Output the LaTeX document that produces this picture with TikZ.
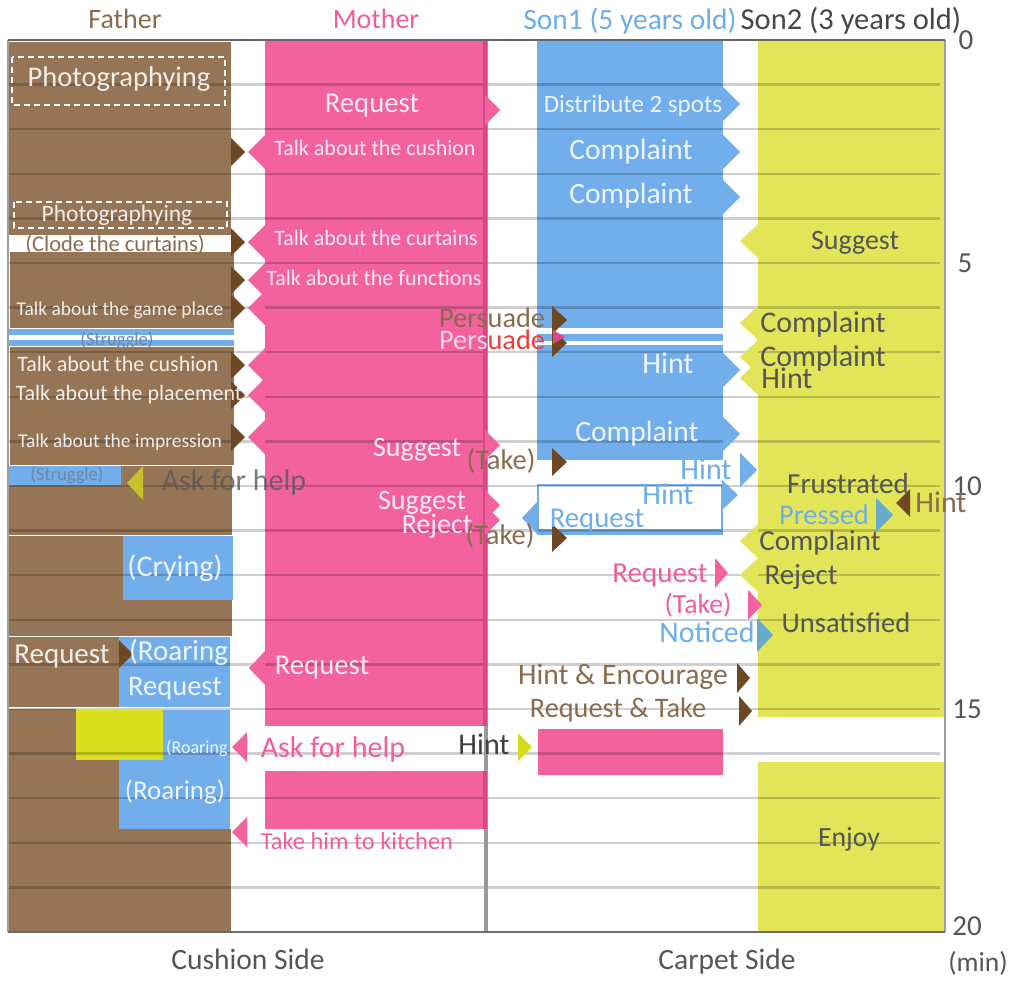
\documentclass[tikz,border=0pt]{standalone}
\usepackage{fontspec}
\setmainfont{Carlito}
\definecolor{brownF}{HTML}{957556}
\definecolor{dbrown}{HTML}{6E4824}
\definecolor{pinkM}{HTML}{F3619F}
\definecolor{pinkD}{HTML}{D94785}
\definecolor{blueS}{HTML}{72AEEC}
\definecolor{yellowS}{HTML}{E2E558}
\definecolor{ybright}{HTML}{DBE01E}
\definecolor{greyT}{HTML}{555555}
\definecolor{brownT}{HTML}{8B6B4E}
\definecolor{pinkT}{HTML}{F25C9C}
\definecolor{blueT}{HTML}{6CAEEC}
\definecolor{tealA}{HTML}{66AACC}
\definecolor{oliveA}{HTML}{C8C02A}
\definecolor{limeA}{HTML}{D6DC1C}
\definecolor{strugT}{HTML}{6F86A8}
\definecolor{pinkL}{HTML}{FBD3E4}
\definecolor{redT}{HTML}{F23A3A}
\newcommand\rtri[5]{\fill[#1] (#2,#3-#5) -- ++(#4,#5) -- ++(-#4,#5) -- cycle;}
\newcommand\ltri[5]{\fill[#1] (#2,#3-#5) -- ++(-#4,#5) -- ++(#4,#5) -- cycle;}
\tikzset{
  lbl/.style={inner sep=0pt, text depth=0pt},
  fs/.style={font=\fontsize{#1bp}{#1bp}\selectfont, text height={0.64*#1bp}},
  lt/.style={text=white, text opacity=0.88},
  gridline/.style={draw=black, draw opacity=0.19, line width=2.4bp},
  dashbox/.style={draw=white, line width=1.8bp, dash pattern=on 6bp off 4bp},
}
\begin{document}
\begin{tikzpicture}[x=1bp,y=-1bp]
\useasboundingbox (0,0) rectangle (1015,983);
% ---------- Father column ----------
\fill[brownF] (8,42) rectangle (231,235);
\fill[brownF] (10,252) rectangle (234,328);
\fill[blueS] (8,329) rectangle (234,335);
\fill[blueS] (8,340) rectangle (234,346);
\fill[brownF] (10,347) rectangle (234,465);
\fill[brownF] (8,466) rectangle (232,535);
\fill[blueS] (8,466) rectangle (121,485);
\draw[dbrown!70, line width=1bp] (122,466) -- (122,485);
\fill[brownF] (8,536) rectangle (123,600);
\fill[blueS] (123,536) rectangle (233,600);
\fill[brownF] (8,600) rectangle (232,636);
\fill[brownF] (8,637) rectangle (119,707);
\fill[blueS] (119,637) rectangle (230,707);
\fill[brownF] (8,709) rectangle (76,760);
\fill[ybright] (76,710) rectangle (163,760);
\fill[blueS] (163,710) rectangle (230,760);
\fill[brownF] (8,760) rectangle (119,829);
\fill[blueS] (119,760) rectangle (230,829);
\fill[brownF] (8,829) rectangle (231,932);
\draw[dashbox] (12,57) rectangle (225,105);
\draw[dashbox] (14,202) rectangle (227,228);
% ---------- Mother column ----------
\fill[pinkM] (265,40) rectangle (485,726);
\fill[pinkM] (265,771) rectangle (485,829);
% ---------- Son1 column ----------
\fill[blueS] (537,40) rectangle (723,328);
\fill[blueS] (537,334) rectangle (723,341);
\fill[blueS] (537,345) rectangle (723,460);
\draw[blueS, line width=2.2bp] (538,485) rectangle (722,530);
\fill[blueS] (537,529) rectangle (723,535);
\fill[pinkM] (538,729) rectangle (723,775);
% ---------- Son2 column ----------
\fill[yellowS] (758,40) rectangle (945,717);
\fill[yellowS] (758,762) rectangle (945,932);
% ---------- grid ----------
\foreach \k in {1,...,19} \draw[gridline] (8,40+44.6*\k) -- (940,40+44.6*\k);
\draw[draw=black!40, line width=3.5bp] (486,40) -- (486,932);
\draw[draw=pinkD, line width=3.5bp] (485,40) -- (485,726) (485,771) -- (485,829);
\draw[black!38, line width=2bp] (8,40) -- (8,932);
\draw[black!38, line width=2.5bp] (945,40) -- (945,932);
\draw[black!60, line width=2bp] (8,40) -- (945,40);
\draw[black!58, line width=2.5bp] (8,932) -- (945,932);
% ---------- arrows Father <-> Mother ----------
\foreach \yy in {152,242,280,308,365,395,437} {
  \rtri{dbrown}{231}{\yy}{14}{14}
  \ltri{pinkM}{265}{\yy}{17}{17}
}
% Mother -> Son1
\foreach \yy in {110,445,505,520} { \rtri{pinkM}{485}{\yy}{15}{15} }
% Son1 -> Son2
\foreach \yy in {104,152,197,370,434} { \rtri{blueS}{723}{\yy}{17}{17} }
\rtri{blueS}{740}{470}{17}{17}
\rtri{blueS}{722}{495}{16}{15}
\ltri{blueS}{538}{518}{16}{17}
% brown arrows in Son1 area
\rtri{dbrown}{552}{320}{15}{14}
\rtri{dbrown}{552}{343}{15}{14}
\rtri{pinkD}{553}{337}{12}{7}
\rtri{dbrown}{552}{462}{15}{14}
\rtri{dbrown}{552}{538}{15}{14}
% Son2 left yellow arrows
\foreach \yy in {241,323,357,378,541,575} { \ltri{yellowS}{758}{\yy}{18}{17} }
\ltri{dbrown}{910}{503}{14}{14}
\rtri{tealA}{876}{515}{17}{17}
\rtri{pinkM}{715}{573}{13}{15}
\rtri{pinkM}{748}{605}{14}{15}
\rtri{tealA}{757}{635}{16}{17}
\rtri{dbrown}{737}{678}{13}{15}
\rtri{dbrown}{739}{711}{13}{15}
\rtri{limeA}{518}{747}{14}{14}
% Father area arrows
\ltri{oliveA}{143}{483}{16}{17}
\rtri{dbrown}{119}{654}{14}{14}
\ltri{pinkM}{265}{668}{16}{17}
\ltri{pinkM}{247}{747}{15}{15}
\ltri{pinkM}{247}{832}{15}{15}
% ---------- headers and axis labels ----------
\node[lbl, fs=28, text=brownT] (hf) at (125,20) {Father};
\node[lbl, fs=28, text=pinkT] (hm) at (376,20) {Mother};
\node[lbl, fs=29.5, text=blueT] (hs1) at (630,20) {Son1 (5 years old)};
\node[lbl, fs=30.5, text=black!72] (hs2) at (851,20) {Son2 (3 years old)};
\node[lbl, fs=29, text=greyT] (t0) at (966,40) {0};
\node[lbl, fs=29, text=greyT] (t5) at (965,263) {5};
\node[lbl, fs=29, text=greyT] (t10) at (967,486) {10};
\node[lbl, fs=29, text=greyT] (t15) at (967,709) {15};
\node[lbl, fs=29, text=greyT] (t20) at (967,926) {20};
\node[lbl, fs=27.5, text=greyT] (tmin) at (978,963) {(min)};
\node[lbl, fs=29.5, text=greyT] (cs) at (248,960) {Cushion Side};
\node[lbl, fs=29.5, text=greyT] (ps) at (727,960) {Carpet Side};
% ---------- Father texts ----------
\node[lbl, fs=28.5, lt] (f1) at (119,77) {Photographying};
\node[lbl, fs=23.5, lt] (f2) at (117,214) {Photographying};
\node[lbl, fs=22.5, text=brownT] (f3) at (115,244) {(Clode the curtains)};
\node[lbl, fs=19.5, lt] (f4) at (120,309) {Talk about the game place};
\node[lbl, fs=18.5, text=strugT] (f5) at (117,340) {(Struggle)};
\node[lbl, fs=22, lt] (f6) at (118,364) {Talk about the cushion};
\node[lbl, fs=22, lt] (f7) at (129,393) {Talk about the placement};
\node[lbl, fs=19.5, lt] (f8) at (120,441) {Talk about the impression};
\node[lbl, fs=18.5, text=strugT] (f9) at (67,475) {(Struggle)};
\node[lbl, fs=30, text=black!65, text opacity=0.8] (f10) at (234,481) {Ask for help};
\node[lbl, fs=30, lt] (f11) at (175,567) {(Crying)};
\node[lbl, fs=29, lt] (f12) at (62,654) {Request};
\begin{scope}
\clip (119,637) rectangle (231,707);
\node[lbl, fs=29, lt, anchor=west] (f13) at (129,651) {(Roaring};
\end{scope}
\node[lbl, fs=28.5, lt] (f14) at (175,686) {Request};
\begin{scope}
\clip (163,710) rectangle (231,760);
\node[lbl, fs=18, lt, anchor=west] (f15) at (166,748) {(Roaring};
\end{scope}
\node[lbl, fs=27, lt] (f16) at (175,791) {(Roaring)};
% ---------- Mother texts ----------
\node[lbl, fs=28.7, lt] (m1) at (372,103) {Request};
\node[lbl, fs=22, lt] (m2) at (375,148) {Talk about the cushion};
\node[lbl, fs=22, lt] (m3) at (376,238) {Talk about the curtains};
\node[lbl, fs=22, lt] (m4) at (374,278) {Talk about the functions};
\node[lbl, fs=28, lt] (m5) at (417,448) {Suggest};
\node[lbl, fs=28, lt] (m6) at (422,501) {Suggest};
\node[lbl, fs=28, lt] (m7) at (437,525) {Reject};
\node[lbl, fs=28.7, lt] (m8) at (322,665) {Request};
\node[lbl, fs=30, text=pinkT] (m9) at (333,748) {Ask for help};
\node[lbl, fs=24.4, text=pinkT] (m10) at (357,842) {Take him to kitchen};
% ---------- Son1 texts ----------
\node[lbl, fs=28.3, text=brownT] (s1) at (492,318) {Persuade};
\node[lbl, fs=28.3] (s2) at (492,340) {\textcolor{pinkL}{Pers}\textcolor{redT}{uade}};
\node[lbl, fs=25, lt] (s3) at (633,104) {Distribute 2 spots};
\node[lbl, fs=29.5, lt] (s4) at (631,150) {Complaint};
\node[lbl, fs=29.5, lt] (s5) at (631,194) {Complaint};
\node[lbl, fs=30, lt] (s6) at (668,364) {Hint};
\node[lbl, fs=29.5, lt] (s7) at (637,432) {Complaint};
\node[lbl, fs=28.5, text=brownT] (s8) at (501,460) {(Take)};
\node[lbl, fs=30, text=blueT] (s9) at (706,470) {Hint};
\node[lbl, fs=30, text=blueT] (s10) at (668,495) {Hint};
\node[lbl, fs=28.7, text=blueT] (s11) at (597,518) {Request};
\node[lbl, fs=28.5, text=brownT] (s12) at (500,535) {(Take)};
\node[lbl, fs=30, text=black!75] (s13) at (484,745) {Hint};
% ---------- Son2 texts ----------
\node[lbl, fs=28, text=greyT] (k1) at (855,241) {Suggest};
\node[lbl, fs=30, text=greyT] (k2) at (823,323) {Complaint};
\node[lbl, fs=30, text=greyT] (k3) at (823,357) {Complaint};
\node[lbl, fs=30, text=greyT] (k4) at (787,379) {Hint};
\node[lbl, fs=29, text=greyT] (k5) at (848,484) {Frustrated};
\node[lbl, fs=28.4, text=blueT] (k6) at (824,515) {Pressed};
\node[lbl, fs=30, text=brownT] (k7) at (941,503) {Hint};
\node[lbl, fs=29, text=greyT] (k8) at (820,541) {Complaint};
\node[lbl, fs=29, text=pinkT] (k9) at (660,573) {Request};
\node[lbl, fs=29, text=greyT] (k10) at (801,575) {Reject};
\node[lbl, fs=27.7, text=pinkT] (k11) at (698,605) {(Take)};
\node[lbl, fs=30, text=blueT] (k12) at (707,633) {Noticed};
\node[lbl, fs=28.5, text=greyT] (k13) at (846,623) {Unsatisfied};
\node[lbl, fs=29.6, text=brownT] (k14) at (623,675) {Hint \& Encourage};
\node[lbl, fs=28.3, text=brownT] (k15) at (618,708) {Request \& Take};
\node[lbl, fs=27.8, text=greyT] (k16) at (849,838) {Enjoy};
\end{tikzpicture}
\end{document}
